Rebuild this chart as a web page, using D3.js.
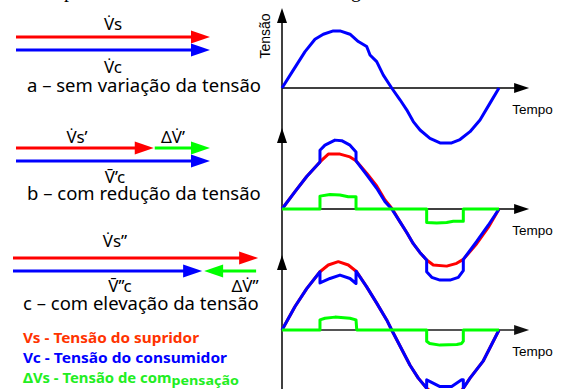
<!DOCTYPE html>
<html>
<head>
<meta charset="utf-8">
<script src="https://cdn.jsdelivr.net/npm/d3@7"></script>
<style>
body { margin: 0; background: #fff; }
svg { display: block; }
</style>
</head>
<body>
<div id="chart"></div>
<script>

// Waveforms: [angle (deg), voltage (p.u.)]
var vcA = [[0,0],[18.7,0.32],[38.2,0.65],[54.7,0.87],[68.5,0.96],[85.1,1.02],[96.2,1.02],[112.8,0.96],[126.6,0.83],[140.5,0.74],[146,0.59],[157.1,0.47],[168.1,0.23],[182,0],[195.8,-0.21],[206.9,-0.39],[217.8,-0.6],[229,-0.75],[245.5,-0.9],[262.1,-0.98],[281.5,-0.98],[295.3,-0.92],[311.9,-0.78],[328.5,-0.57],[345.1,-0.27],[360,0]];

var vsB = [[0,0],[21.6,0.31],[41,0.58],[63,0.84],[76.8,0.98],[96.2,0.98],[112.8,0.93],[122.8,0.86],[140.5,0.64],[157.1,0.41],[170.9,0.16],[183,0],[195.8,-0.23],[206.9,-0.42],[217.8,-0.62],[229,-0.78],[240,-0.91],[251,-1.0],[273.2,-1.02],[289.8,-0.97],[300.8,-0.9],[323,-0.62],[342.2,-0.33],[360,0]];
var vcB = [[0,0],[21.6,0.31],[41,0.58],[63,0.84],[63,1.05],[71.3,1.14],[87.9,1.23],[99,1.22],[112.8,1.14],[122.8,1.02],[122.8,0.86],[140.5,0.61],[157.1,0.37],[170.9,0.13],[182,0],[195.8,-0.23],[206.9,-0.42],[217.8,-0.62],[229,-0.78],[240,-0.91],[240,-1.12],[248.4,-1.22],[262.1,-1.27],[278.7,-1.27],[292.5,-1.22],[300.8,-1.1],[300.8,-0.9],[323,-0.58],[342.2,-0.29],[360,0]];
var dvB = [[0,0],[63,0],[63,0.23],[79.6,0.26],[96.2,0.25],[110,0.22],[122.8,0.22],[122.8,0],[240,0],[240,-0.24],[256.6,-0.25],[273.2,-0.24],[284.2,-0.22],[300.8,-0.22],[300.8,0],[360,0]];

var vsC = [[0,0],[21.6,0.42],[41,0.74],[63,1.04],[76.8,1.16],[93.4,1.22],[110,1.16],[124,1.04],[140.5,0.77],[157.1,0.48],[173.7,0.18],[182,0],[212.4,-0.63],[226.1,-0.86],[240,-1.04],[256.6,-1.18],[273.2,-1.22],[289.8,-1.18],[300.8,-1.04],[311.9,-0.86],[334,-0.55],[360,0]];
var vcC = [[0,0],[21.6,0.42],[41,0.74],[63,1.04],[63,0.84],[79.6,0.92],[96.2,0.98],[112.8,0.92],[122.8,0.83],[122.8,1.05],[140.5,0.77],[157.1,0.48],[173.7,0.18],[182,0],[212.4,-0.63],[226.1,-0.86],[240,-1.04],[240,-0.89],[262.1,-1.01],[281.5,-1.01],[298,-0.89],[300.8,-0.89],[300.8,-1.04],[311.9,-0.86],[334,-0.55],[360,0]];
var dvC = [[0,0],[63,0],[63,0.18],[71.3,0.21],[87.9,0.23],[112.8,0.21],[122.8,0.18],[124,0],[240,0],[240,-0.2],[245,-0.24],[262,-0.27],[290,-0.26],[298,-0.24],[300.8,-0.2],[300.8,0],[360,0]];

// Phasor magnitudes (p.u.) for the three cases
var phasorVs = [1.0, 0.71, 1.27];
var phasorVc = [1.0, 1.0, 0.98];
var phasorVsLabel = ['V\u0307s', 'V\u0307s\u2019', 'V\u0307s\u201d'];
var phasorVcLabel = ['V\u0307c', 'V\u0304\u2019c', 'V\u0304\u2019\u2019c'];
var phasorDvLabel = [null, '\u0394V\u0307\u2019', '\u0394V\u0307\u201d'];
var captions = ['a \u2013 sem variação da tensão', 'b \u2013 com redução da tensão', 'c \u2013 com elevação da tensão'];

var legendText = ['Vs - Tensão do supridor', 'Vc - Tensão do consumidor', '\u0394Vs - Tensão de com'];
var legendColor = ['#ff3300', '#0000ff', '#22ee22'];

var RED = '#ff0000', BLUE = '#0000ff', GREEN = '#00ff00';

var W = 561, H = 389;

var svg = d3.select('#chart')
            .append('svg')
            .attr('width', W)
            .attr('height', H);

// descenders of the caption line above (cut off by the crop)
svg.append('text').attr('x', 64).attr('y', -3)
   .style('font', '20px "Liberation Serif", serif').text('p');
svg.append('text').attr('x', 351).attr('y', -3)
   .style('font', '20px "Liberation Serif", serif').text('g');

// ---------- waveforms ----------
var x = d3.scaleLinear().domain([0, 360]).range([282, 499]);
var axisEnd = 410;   // x-axis arrow tip, in degrees
var panelZero = [88, 209, 330];
var axisTop = [8, 128, 255];

var ys = panelZero.map(function (z) {
    return d3.scaleLinear().domain([-1, 1]).range([z + 56, z - 56]);
});

function tri(g, tx, ty, dir, len, half, color) {
    // dir: 'r', 'l', 'u'
    var p;
    if (dir == 'r') p = [[tx, ty], [tx - len, ty - half], [tx - len, ty + half]];
    else if (dir == 'l') p = [[tx, ty], [tx + len, ty - half], [tx + len, ty + half]];
    else p = [[tx, ty], [tx - half, ty + len], [tx + half, ty + len]];
    g.append('path').attr('d', 'M' + p.join('L') + 'Z').attr('fill', color);
}

var wave = svg.append('g');

// vertical axis, one line through all three panels
wave.append('line')
    .attr('x1', x(0)).attr('x2', x(0))
    .attr('y1', axisTop[0] + 5).attr('y2', H)
    .attr('stroke', '#000').attr('stroke-width', 1.5);

axisTop.forEach(function (t) { tri(wave, x(0), t, 'u', 15, 5, '#000'); });

var axisColor = ['#000', '#000', '#555'];
ys.forEach(function (y, i) {
    wave.append('line')
        .attr('x1', x(0)).attr('x2', x(axisEnd) - 10)
        .attr('y1', y(0)).attr('y2', y(0))
        .attr('stroke', axisColor[i]).attr('stroke-width', i == 2 ? 2 : 1.5);
    tri(wave, x(axisEnd), y(0), 'r', 15, 5, axisColor[i] == '#555' ? '#111' : '#000');
    wave.append('text')
        .attr('x', x(axisEnd) - 17)
        .attr('y', y(0) + 26)
        .style('font', '13.5px "Liberation Sans", Arial, sans-serif')
        .text('Tempo');
});

wave.append('text')
    .attr('transform', 'translate(270,36) rotate(-90)')
    .attr('text-anchor', 'middle')
    .style('font', '14px "Liberation Sans", Arial, sans-serif')
    .text('Tensão');

var series = [
    [{ d: vcA, c: BLUE }],
    [{ d: vsB, c: RED }, { d: vcB, c: BLUE }, { d: dvB, c: GREEN }],
    [{ d: vsC, c: RED }, { d: vcC, c: BLUE }, { d: dvC, c: GREEN }]
];

series.forEach(function (list, i) {
    var line = d3.line()
                 .x(function (d) { return x(d[0]); })
                 .y(function (d) { return ys[i](d[1]); });
    list.forEach(function (s) {
        wave.append('path')
            .datum(s.d)
            .attr('d', line)
            .attr('fill', 'none')
            .attr('stroke', s.c)
            .attr('stroke-width', 3)
            .attr('stroke-linejoin', 'round');
    });
});

// ---------- phasor diagrams ----------
var ph = svg.append('g');
var pScale = [
    d3.scaleLinear().domain([0, 1]).range([16, 210]),
    d3.scaleLinear().domain([0, 1]).range([16, 210]),
    d3.scaleLinear().domain([0, 1]).range([13, 206])
];
var vsY = [37, 148, 258];
var vcY = [50, 161, 271];

function arrow(g, x1, x2, y, color) {
    var dir = x2 > x1 ? 1 : -1;
    g.append('line')
     .attr('x1', x1).attr('x2', x2 - dir * 12)
     .attr('y1', y).attr('y2', y)
     .attr('stroke', color).attr('stroke-width', 3);
    tri(g, x2, y, dir > 0 ? 'r' : 'l', 19, 6.5, color);
}

var labelFont = '17px "Noto Sans", sans-serif';
var capFont = '18.5px "Noto Sans", sans-serif';

// case a
arrow(ph, pScale[0](0), pScale[0](phasorVs[0]), vsY[0], RED);
arrow(ph, pScale[0](0), pScale[0](phasorVc[0]), vcY[0], BLUE);
ph.append('text').attr('x', 113).attr('y', 30).attr('text-anchor', 'middle')
  .style('font', labelFont).text(phasorVsLabel[0]);
ph.append('text').attr('x', 113).attr('y', 73).attr('text-anchor', 'middle')
  .style('font', labelFont).text(phasorVcLabel[0]);

// case b
arrow(ph, pScale[1](0), pScale[1](phasorVs[1]), vsY[1], RED);
arrow(ph, pScale[1](phasorVs[1]) + 1, pScale[1](phasorVc[1]), vsY[1], GREEN);
arrow(ph, pScale[1](0), pScale[1](phasorVc[1]), vcY[1], BLUE);
ph.append('text').attr('x', 77).attr('y', 143).attr('text-anchor', 'middle')
  .style('font', labelFont).text(phasorVsLabel[1]);
ph.append('text').attr('x', 173).attr('y', 143).attr('text-anchor', 'middle')
  .style('font', labelFont).text(phasorDvLabel[1]);
ph.append('text').attr('x', 115).attr('y', 183).attr('text-anchor', 'middle')
  .style('font', labelFont).text(phasorVcLabel[1]);

// case c
arrow(ph, pScale[2](0), pScale[2](phasorVs[2]), vsY[2], RED);
arrow(ph, pScale[2](0), pScale[2](phasorVc[2]), vcY[2], BLUE);
arrow(ph, pScale[2](phasorVs[2]) - 2, pScale[2](phasorVc[2]) + 2, vcY[2], GREEN);
ph.append('text').attr('x', 115).attr('y', 247).attr('text-anchor', 'middle')
  .style('font', labelFont).text(phasorVsLabel[2]);
ph.append('text').attr('x', 120).attr('y', 292).attr('text-anchor', 'middle')
  .style('font', labelFont).text(phasorVcLabel[2]);
ph.append('text').attr('x', 245).attr('y', 292).attr('text-anchor', 'middle')
  .style('font', labelFont).text(phasorDvLabel[2]);

var capX = [27, 27, 23];
var capY = [92, 200, 310];
captions.forEach(function (c, i) {
    ph.append('text').attr('x', capX[i]).attr('y', capY[i])
      .style('font', capFont).text(c);
});

// ---------- legend ----------
var legY = [343, 363, 383];
var legW = [176, 204, 216];
legendText.forEach(function (t, i) {
    var tx = ph.append('text')
               .attr('x', 23).attr('y', legY[i])
               .attr('fill', legendColor[i])
               .attr('textLength', legW[i])
               .attr('lengthAdjust', 'spacingAndGlyphs')
               .style('font', 'bold 13.5px "Noto Sans", sans-serif')
               .text(t);
    if (i == 2) {
        tx.append('tspan').attr('dy', 1.5).style('font-size', '13px').text('pensação');
    }
});

</script>
</body>
</html>
